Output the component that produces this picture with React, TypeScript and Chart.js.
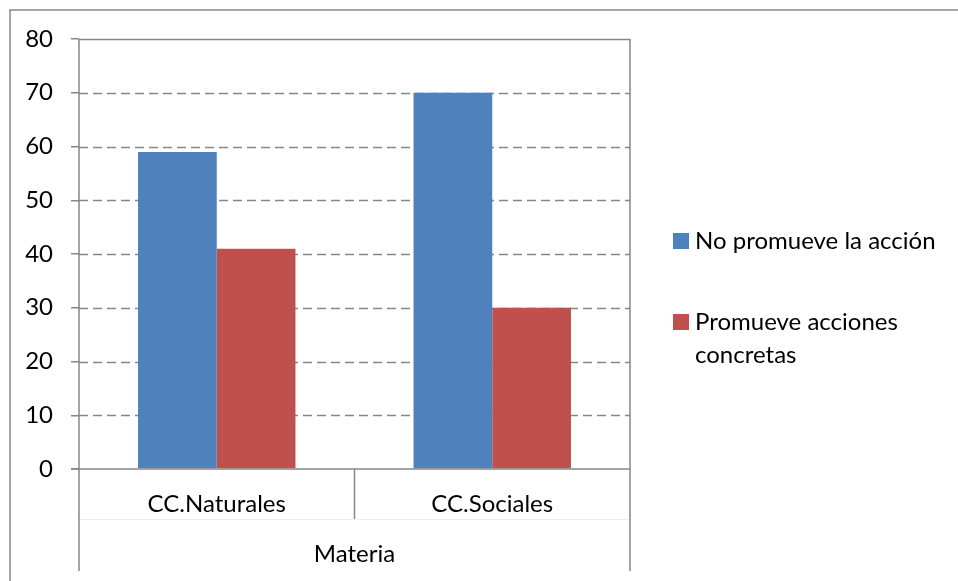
import React, { useEffect, useRef } from "react";
import { Chart, registerables } from "chart.js";

Chart.register(...registerables);

const categories = ["CC.Naturales", "CC.Sociales"];
const noPromueveValues = [59, 70];
const promueveValues = [41, 30];
const seriesLabels = ["No promueve la acción", "Promueve acciones concretas"];
const seriesColors = ["#4F81BD", "#C0504D"];
const groupTitle = "Materia";
const yMin = 0;
const yMax = 80;
const yStep = 10;

const FONT = "Lato";
const FS = 24;
const LINE = "#868686";
const W = 958;
const H = 581;

export default function App() {
  const ref = useRef<HTMLCanvasElement>(null);

  useEffect(() => {
    const canvas = ref.current;
    if (!canvas) return;

    const decor = {
      id: "excelDecor",
      beforeDatasetsDraw(chart: any) {
        const { ctx, chartArea: a, scales } = chart;
        const ys = scales.y;
        ctx.save();
        ctx.strokeStyle = LINE;
        ctx.lineWidth = 1.4;
        ys.ticks.forEach((t: any) => {
          if (t.value === yMin) return;
          const py = Math.round(ys.getPixelForValue(t.value)) + 0.5;
          ctx.setLineDash(t.value === yMax ? [] : [9, 5]);
          ctx.beginPath();
          ctx.moveTo(a.left, py);
          ctx.lineTo(a.right, py);
          ctx.stroke();
        });
        ctx.restore();
      },
      afterDraw(chart: any) {
        const { ctx, chartArea: a, scales } = chart;
        const xs = scales.x;
        const bottom = H - 10;
        ctx.save();
        ctx.strokeStyle = LINE;
        ctx.lineWidth = 1.5;
        ctx.setLineDash([]);
        // outer chart border (top and left visible)
        ctx.beginPath();
        ctx.moveTo(10, H + 5);
        ctx.lineTo(10, 10);
        ctx.lineTo(W + 5, 10);
        ctx.stroke();
        // faint label-row separator
        ctx.strokeStyle = "#ececec";
        ctx.lineWidth = 1;
        ctx.beginPath();
        ctx.moveTo(a.left, 519.5);
        ctx.lineTo(a.right, 519.5);
        ctx.stroke();
        ctx.strokeStyle = LINE;
        ctx.lineWidth = 1.5;
        // y axis line extended
        ctx.beginPath();
        ctx.moveTo(a.left, a.top);
        ctx.lineTo(a.left, bottom);
        ctx.stroke();
        // right plot border extended
        ctx.beginPath();
        ctx.moveTo(a.right, a.top);
        ctx.lineTo(a.right, bottom);
        ctx.stroke();
        // x axis line
        ctx.beginPath();
        ctx.moveTo(a.left - 8, a.bottom);
        ctx.lineTo(a.right, a.bottom);
        ctx.stroke();
        // category dividers
        for (let i = 0; i < categories.length - 1; i++) {
          const px = (xs.getPixelForValue(i) + xs.getPixelForValue(i + 1)) / 2;
          ctx.beginPath();
          ctx.moveTo(px, a.bottom);
          ctx.lineTo(px, 519);
          ctx.stroke();
        }
        // legend
        ctx.font = `${FS}px ${FONT}`;
        ctx.fillStyle = "#000";
        ctx.textBaseline = "alphabetic";
        ctx.textAlign = "left";
        const lx = 673;
        const tx = 695;
        const maxW = W - tx - 6;
        const tops = [233, 314];
        chart.data.datasets.forEach((ds: any, i: number) => {
          const top = tops[i];
          ctx.fillStyle = ds.backgroundColor;
          ctx.fillRect(lx, top, 16, 16);
          ctx.fillStyle = "#000";
          const words = String(ds.label).split(" ");
          const lines: string[] = [];
          let cur = "";
          words.forEach((w) => {
            const test = cur ? cur + " " + w : w;
            if (ctx.measureText(test).width > maxW && cur) {
              lines.push(cur);
              cur = w;
            } else cur = test;
          });
          if (cur) lines.push(cur);
          lines.forEach((ln, k) => {
            ctx.fillText(ln, tx, top + 16 + k * 33);
          });
        });
        ctx.restore();
      },
    };

    const chart = new Chart(canvas, {
      type: "bar",
      data: {
        labels: categories,
        datasets: [
          {
            label: seriesLabels[0],
            data: noPromueveValues,
            backgroundColor: seriesColors[0],
            borderWidth: 0,
            categoryPercentage: 2 / 3.5,
            barPercentage: 1,
          },
          {
            label: seriesLabels[1],
            data: promueveValues,
            backgroundColor: seriesColors[1],
            borderWidth: 0,
            categoryPercentage: 2 / 3.5,
            barPercentage: 1,
          },
        ],
      },
      options: {
        animation: false,
        responsive: false,
        devicePixelRatio: 1,
        layout: { padding: { top: 39, right: W - 630, left: 0, bottom: 0 } },
        plugins: {
          legend: { display: false },
          tooltip: { enabled: false },
          title: { display: false },
        },
        scales: {
          x: {
            type: "category",
            offset: true,
            grid: { display: false, drawTicks: false },
            border: { display: false },
            ticks: {
              font: { family: FONT, size: FS },
              color: "#000",
              padding: 21,
              autoSkip: false,
              maxRotation: 0,
            },
            title: {
              display: true,
              text: groupTitle,
              font: { family: FONT, size: FS },
              color: "#000",
              padding: { top: 0, bottom: 12 },
            },
            afterFit(scale: any) {
              scale.height = H - 469;
            },
          },
          y: {
            min: yMin,
            max: yMax,
            ticks: {
              stepSize: yStep,
              font: { family: FONT, size: FS },
              color: "#000",
              padding: 18,
            },
            grid: {
              drawOnChartArea: false,
              drawTicks: true,
              tickLength: 8,
              color: LINE,
              lineWidth: 1.5,
            },
            border: { display: false },
            afterFit(scale: any) {
              scale.width = 79;
            },
          },
        },
      },
      plugins: [decor],
    } as any);

    return () => chart.destroy();
  }, []);

  return (
    <div style={{ position: "fixed", left: 0, top: 0, width: W, height: H, background: "#fff" }}>
      <canvas ref={ref} width={W} height={H} style={{ display: "block" }} />
    </div>
  );
}
